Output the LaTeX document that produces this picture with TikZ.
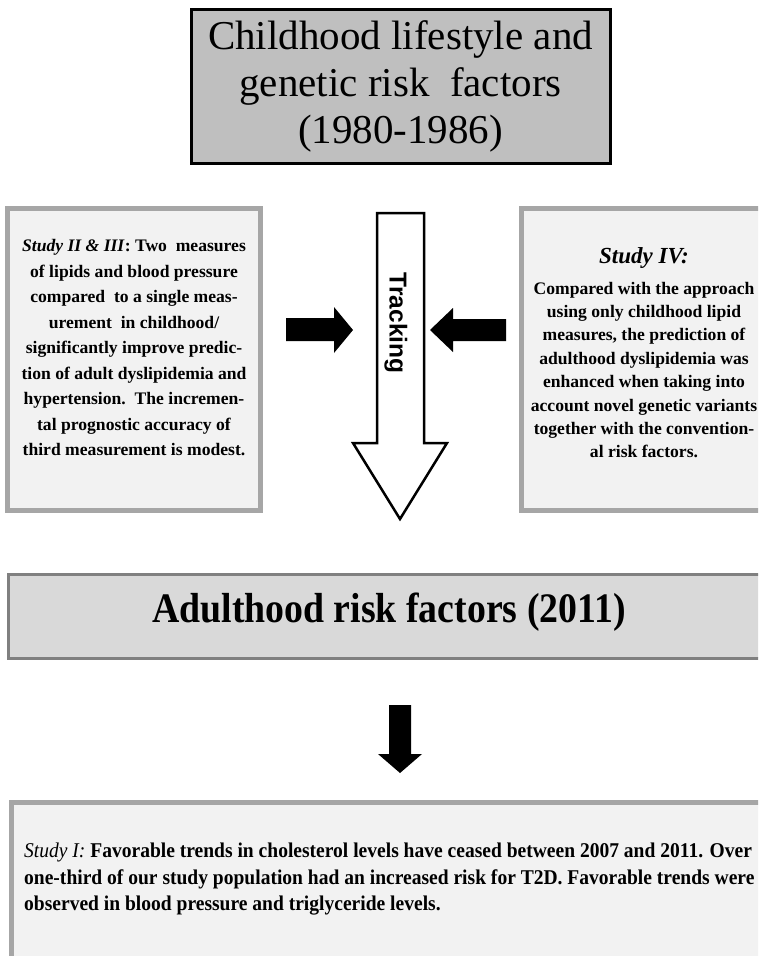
\documentclass[tikz,border=0pt]{standalone}
\usepackage{fontspec}
\setmainfont{Liberation Serif}
\newfontfamily\trackfont{Liberation Sans}
\newfontfamily\condfont[FakeStretch=0.9]{Liberation Serif}
\newfontfamily\condfontb[FakeStretch=0.93]{Liberation Serif}
\definecolor{titlegray}{HTML}{BFBFBF}
\definecolor{panel}{HTML}{F2F2F2}
\definecolor{bandgray}{HTML}{D9D9D9}
\definecolor{framegray}{HTML}{A6A6A6}
\definecolor{edgegray}{HTML}{808080}
\tikzset{
  outerframe/.style={draw=framegray, line width=4pt, fill=panel, inner sep=0pt},
  innerframe/.style={draw=framegray, line width=1.3pt},
  blockarrow/.style={fill=black, draw=none},
  bodytext/.style={font=\bfseries\fontsize{17.6}{25.5}\selectfont, align=center, inner sep=0pt},
}
\begin{document}
\begin{tikzpicture}[x=1pt,y=-1pt]
\useasboundingbox (0,0) rectangle (758,956);
\clip (0,0) rectangle (758,956);

% title box
\node[draw=black, line width=3pt, fill=titlegray, minimum width=419pt, minimum height=154pt,
      align=center, font=\fontsize{41}{47}\selectfont] (title) at (400.5,86)
  {Childhood lifestyle and\\genetic risk\ \ factors\\(1980-1986)};

% left study box
\node[outerframe, minimum width=254pt, minimum height=303pt] (s23) at (134,359.5) {};
\draw[innerframe] ([shift={(4.5pt,-4.5pt)}]s23.north west) rectangle ([shift={(-4.5pt,4.5pt)}]s23.south east);
\node[bodytext] (s23text) at (134,348)
  {\textit{Study II \& III}: Two\ \ measures\\
   of lipids and blood pressure\\
   compared\ \ to a single meas-\\
   urement\ \ in childhood/\\
   significantly improve predic-\\
   tion of adult dyslipidemia and\\
   hypertension.\ \ The incremen-\\
   tal prognostic accuracy of\\
   third measurement is modest.};

% right study box
\node[outerframe, minimum width=246pt, minimum height=303pt] (s4) at (644,359.5) {};
\draw[innerframe] ([shift={(4.5pt,-4.5pt)}]s4.north west) rectangle ([shift={(-4.5pt,4.5pt)}]s4.south east);
\node[font=\bfseries\itshape\fontsize{23}{24}\selectfont, inner sep=0pt] (s4title) at (644,258) {Study IV:};
\node[bodytext, font=\bfseries\fontsize{17.6}{23.4}\selectfont] (s4text) at (644,370)
  {Compared with the approach\\
   using only childhood lipid\\
   measures, the prediction of\\
   adulthood dyslipidemia was\\
   enhanced when taking into\\
   account novel genetic variants\\
   together with the convention-\\
   al risk factors.};

% tracking arrow
\draw[line width=2.5pt, fill=white, line join=miter]
  (377,213) -- (424,213) -- (424,443) -- (447,443) -- (400,519) -- (353,443) -- (377,443) -- cycle;
\node[rotate=-90, font=\trackfont\bfseries\fontsize{24.5}{25}\selectfont, inner sep=0pt] (track) at (396,323) {Tracking};

% side arrows
\fill[blockarrow] (286,318) -- (334,318) -- (334,307) -- (353,330) -- (334,353) -- (334,341) -- (286,341) -- cycle;
\fill[blockarrow] (506,319) -- (453,319) -- (453,308) -- (430,330) -- (453,352) -- (453,341) -- (506,341) -- cycle;

% adulthood band
\node[draw=edgegray, line width=3pt, fill=bandgray, minimum width=764pt, minimum height=84pt] (adult) at (390,616) {};
\node[font=\condfont\bfseries\fontsize{42}{44}\selectfont, anchor=base, inner sep=0pt] (adulttext) at (389,622)
  {Adulthood risk factors (2011)};

% down arrow
\fill[blockarrow] (389,705) -- (411,705) -- (411,754) -- (422,754) -- (400,773) -- (378,754) -- (389,754) -- cycle;

% bottom study box
\node[outerframe, minimum width=764pt, minimum height=175pt] (s1) at (393,889.5) {};
\draw[innerframe] ([shift={(4.5pt,-4.5pt)}]s1.north west) rectangle ([shift={(-4.5pt,4.5pt)}]s1.south east);
\node[font=\condfontb\bfseries\fontsize{21}{26.5}\selectfont, align=left, anchor=north west, inner sep=0pt] (s1text) at (24,843)
  {\textit{\mdseries Study I:} Favorable trends in cholesterol levels have ceased between 2007 and 2011. Over\\
   one-third of our study population had an increased risk for T2D. Favorable trends were\\
   observed in blood pressure and triglyceride levels.};
\end{tikzpicture}
\end{document}
